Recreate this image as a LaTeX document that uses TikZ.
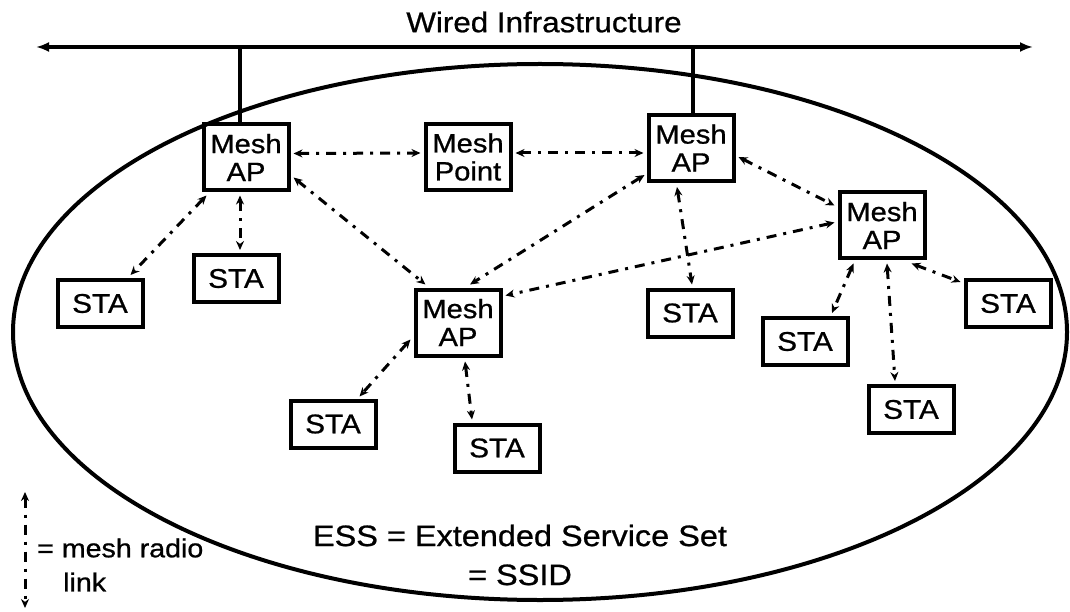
\documentclass[tikz,border=0pt]{standalone}
\usepackage{fontspec}
\setmainfont{Liberation Sans}[FakeStretch=1.1,FakeBold=0.8]
\usetikzlibrary{arrows.meta,calc}
\begin{document}
\begin{tikzpicture}[x=1pt,y=-1pt,
  meshbox/.style={draw,line width=4pt,minimum width=85pt,minimum height=66pt,inner sep=0pt,align=center,font=\fontsize{26.5}{28}\selectfont},
  stabox/.style={draw,line width=4pt,minimum width=85pt,minimum height=47pt,inner sep=0pt,font=\fontsize{27}{28}\selectfont},
  wire/.style={line width=4pt},
  linktip/.tip={Stealth[open,length=9pt,width=8pt,line width=1.5pt]},
  link/.style={line width=3pt,dash pattern=on 10pt off 7pt on 3pt off 7pt,linktip-linktip},
  lbl/.style={inner sep=0pt}]
\useasboundingbox (0,0) rectangle (1070,612);
\fill[white] (0,0) rectangle (1070,612);
% ellipse (ESS)
\draw[wire] (540,332) ellipse [x radius=527, y radius=268];
% wired infrastructure
\coordinate (wl) at (36,47);
\coordinate (wr) at (1033,47);
\draw[wire,{Latex[length=13pt,width=10pt]}-{Latex[length=13pt,width=10pt]}] (wl) -- (wr);
\node[lbl,font=\fontsize{28.5}{30}\selectfont] (wired) at (544,22) {Wired Infrastructure};
% nodes
\node[meshbox] (ap1) at (246,157.5) {Mesh\\AP};
\node[meshbox] (mp)  at (468,157) {Mesh\\Point};
\node[meshbox] (ap2) at (691,148) {Mesh\\AP};
\node[meshbox] (ap3) at (882,225.5) {Mesh\\AP};
\node[meshbox] (ap4) at (458,322.5) {Mesh\\AP};
\node[stabox] (staa) at (100,303.5) {STA};
\node[stabox] (stab) at (236,278.5) {STA};
\node[stabox] (stac) at (690,313) {STA};
\node[stabox] (stad) at (805,341.5) {STA};
\node[stabox] (stae) at (1008,303.5) {STA};
\node[stabox] (staf) at (911,409.5) {STA};
\node[stabox] (stag) at (333,424) {STA};
\node[stabox] (stah) at (497,448) {STA};
% wired drops
\coordinate (j1) at (240,47);
\coordinate (j2) at (693,47);
\draw[wire] (j1) -- (j1 |- ap1.north);
\draw[wire] (j2) -- (j2 |- ap2.north);
% mesh radio links
\draw[link] ($(ap1.east)+(3,-4)$) -- ($(mp.west)+(-3,-4)$);
\draw[link] ($(mp.east)+(3,-4)$) -- ($(ap2.west)+(-3,5)$);
\draw[link] ($(ap1.east)+(3,20)$) -- ($(ap4.north west)+(12,-3)$);
\draw[link] ($(ap1.south west)+(5,3)$) -- ($(staa.north east)+(-14,-3)$);
\draw[link] ($(ap1.south)+(-6,3)$) -- ($(stab.north)+(4,-3)$);
\draw[link] ($(ap2.south west)+(-2,-8)$) -- ($(ap4.north)+(12,-3)$);
\draw[link] ($(ap2.east)+(3,9)$) -- ($(ap3.west)+(-3,-20)$);
\draw[link] ($(ap3.west)+(-3,-3)$) -- ($(ap4.north east)+(3,8)$);
\draw[link] ($(ap2.south)+(-14,4)$) -- ($(stac.north)+(2,-3)$);
\draw[link] ($(ap3.south west)+(16,3)$) -- ($(stad.north)+(27,-3)$);
\draw[link] ($(ap3.south)+(5,3)$) -- ($(staf.north)+(-16,-3)$);
\draw[link] ($(ap3.south east)+(-15,3)$) -- ($(stae.north west)+(-3,4)$);
\draw[link] ($(ap4.west)+(-3,17)$) -- ($(stag.north east)+(-18,-2)$);
\draw[link] ($(ap4.south)+(7,4)$) -- ($(stah.north)+(-25,-3)$);
% ESS label
\node[lbl,align=center,font=\fontsize{29.5}{39}\selectfont] (ess) at (520,555) {ESS = Extended Service Set\\= SSID};
% legend
\coordinate (legA) at (25,492);
\coordinate (legB) at (25,608);
\draw[link] (legA) -- (legB);
\node[lbl,anchor=west,font=\fontsize{26}{28}\selectfont] (legt1) at (37,548) {= mesh radio};
\node[lbl,anchor=west,font=\fontsize{26}{28}\selectfont] (legt2) at (63,582) {link};
\end{tikzpicture}
\end{document}
